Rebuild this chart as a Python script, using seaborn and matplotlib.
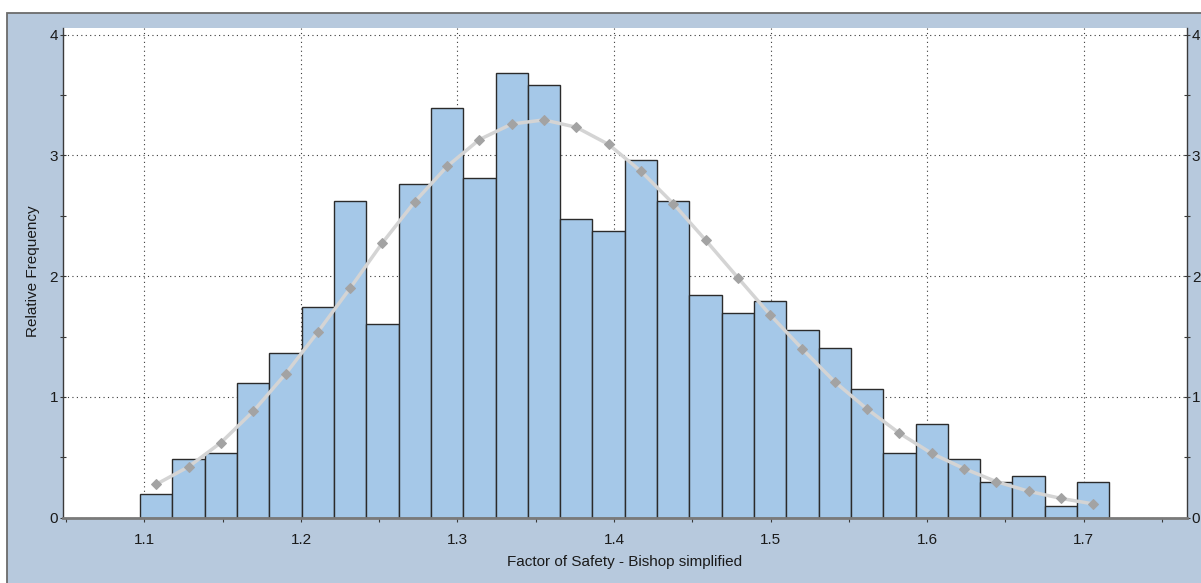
import numpy as np
import pandas as pd
import matplotlib
matplotlib.use("Agg")
import matplotlib.pyplot as plt
from matplotlib.patches import Rectangle
from matplotlib.ticker import MultipleLocator, FormatStrFormatter
import seaborn as sns

# histogram of factor of safety (30 bins)
fs_min = 1.0973
bin_width = 0.020637
rel_freq = [0.194, 0.487, 0.536, 1.116, 1.362, 1.747, 2.619, 1.602, 2.767, 3.396,
            2.814, 3.686, 3.587, 2.475, 2.376, 2.961, 2.619, 1.840, 1.698, 1.794,
            1.553, 1.405, 1.066, 0.536, 0.777, 0.487, 0.296, 0.342, 0.099, 0.296]
# fitted distribution sampled at bin centres
fit_curve = [0.277, 0.422, 0.622, 0.881, 1.190, 1.538, 1.901, 2.277, 2.616, 2.909,
             3.131, 3.260, 3.294, 3.233, 3.091, 2.869, 2.601, 2.299, 1.988, 1.680,
             1.396, 1.125, 0.900, 0.700, 0.533, 0.407, 0.299, 0.219, 0.160, 0.114]

x_label = "Factor of Safety - Bishop simplified"
y_label = "Relative Frequency"

n_bins = len(rel_freq)
fs_max = fs_min + bin_width * n_bins
centres = fs_min + bin_width * (np.arange(n_bins) + 0.5)
df = pd.DataFrame({"fs": centres, "freq": rel_freq, "fit": fit_curve})

sns.set_style("white")
plt.rcParams['font.family'] = ['Liberation Sans', 'DejaVu Sans']

W, H = 1201, 583
fig = plt.figure(figsize=(W / 100, H / 100), dpi=100)
fig.patch.set_facecolor("white")
bg = Rectangle((7 / W, -0.02), 1.02, (H - 12.7) / H + 0.02,
               transform=fig.transFigure, facecolor="#b7c9dd",
               edgecolor="#6b6b6b", lw=1.3, zorder=-5)
fig.patches.append(bg)

ax = fig.add_axes([63 / W, (H - 517.7) / H, (1187 - 63) / W, (517.7 - 28) / H])
ax.set_zorder(1)
ax.set_facecolor("white")

sns.histplot(data=df, x="fs", weights="freq", bins=n_bins, binrange=(fs_min, fs_max),
             ax=ax, stat="count", color="#a5c8e8", alpha=1, edgecolor="#2b2b2b",
             linewidth=1, zorder=2)
sns.lineplot(data=df, x="fs", y="fit", ax=ax, color="#d4d4d4", lw=2.5,
             marker="D", markersize=5.5, markerfacecolor="#a3a3a3",
             markeredgecolor="#a3a3a3", zorder=3)

ax.set_xlim(1.048, 1.766)
ax.set_ylim(0, 4.055)
ax.xaxis.set_major_locator(MultipleLocator(0.1))
ax.xaxis.set_minor_locator(MultipleLocator(0.05))
ax.yaxis.set_major_locator(MultipleLocator(1))
ax.yaxis.set_minor_locator(MultipleLocator(0.5))
ax.xaxis.set_major_formatter(FormatStrFormatter("%.1f"))

ax.grid(True, which="major", linestyle=(0, (1, 3)), color="#3a3a3a", lw=0.8, zorder=1)
ax.set_axisbelow(True)

for s in ["left", "right"]:
    ax.spines[s].set_color("#3a3a3a")
    ax.spines[s].set_linewidth(1.0)
ax.spines["bottom"].set_color("#7a7a7a")
ax.spines["bottom"].set_linewidth(2)
ax.spines["top"].set_visible(False)

ax.tick_params(axis="y", which="both", left=True, right=True, labelleft=True,
               labelright=True, direction="inout", length=5, width=0.8,
               color="#3a3a3a", labelsize=11, labelcolor="#1a1a1a", pad=1)
ax.tick_params(axis="y", which="minor", length=4)
ax.tick_params(axis="x", which="both", bottom=True, direction="out", length=3,
               width=0.8, color="#3a3a3a", labelsize=11, labelcolor="#1a1a1a", pad=8)

ax.set_xlabel("")
ax.set_ylabel("")
fig.text(625 / W, 1 - 562 / H, x_label, ha="center", va="center", fontsize=11, color="#1a1a1a")
fig.text(33 / W, 1 - 271 / H, y_label, ha="center", va="center", rotation=90,
         fontsize=11, color="#1a1a1a")

fig.savefig("out.png", dpi=100)
